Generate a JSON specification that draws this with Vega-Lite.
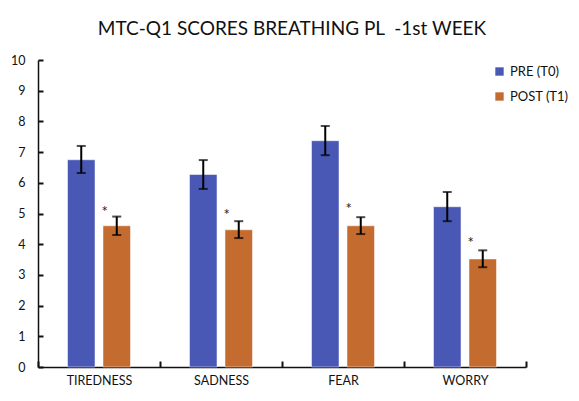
{
  "$schema": "https://vega.github.io/schema/vega-lite/v6.json",
  "autosize": "none",
  "width": 488,
  "height": 307,
  "padding": {"left": 38, "top": 60, "right": 53, "bottom": 34},
  "background": "white",
  "config": {
    "view": {"stroke": null},
    "font": "Lato",
    "axis": {"labelFont": "Lato", "titleFont": "Lato"},
    "axisY": {
      "title": null,
      "labelOverlap": false,
      "grid": false,
      "labelFontSize": 12.5,
      "labelColor": "#111111",
      "ticks": true,
      "tickSize": -5,
      "labelPadding": 18,
      "tickColor": "#111111",
      "tickWidth": 2,
      "domainColor": "#111111",
      "domainWidth": 1.5
    }
  },
  "title": {
    "text": "MTC-Q1 SCORES BREATHING PL\u00a0 -1st WEEK",
    "font": "Lato",
    "fontSize": 19,
    "fontWeight": "normal",
    "color": "#111111",
    "anchor": "middle",
    "offset": 15,
    "dx": 10
  },
  "data": {
    "values": [
      {"category": "TIREDNESS", "group": "PRE (T0)", "mean": 6.75, "lower": 6.32, "upper": 7.2, "star": null},
      {"category": "TIREDNESS", "group": "POST (T1)", "mean": 4.6, "lower": 4.3, "upper": 4.9, "star": 5.05},
      {"category": "SADNESS", "group": "PRE (T0)", "mean": 6.27, "lower": 5.8, "upper": 6.74, "star": null},
      {"category": "SADNESS", "group": "POST (T1)", "mean": 4.47, "lower": 4.2, "upper": 4.75, "star": 4.95},
      {"category": "FEAR", "group": "PRE (T0)", "mean": 7.37, "lower": 6.9, "upper": 7.85, "star": null},
      {"category": "FEAR", "group": "POST (T1)", "mean": 4.6, "lower": 4.33, "upper": 4.88, "star": 5.15},
      {"category": "WORRY", "group": "PRE (T0)", "mean": 5.22, "lower": 4.75, "upper": 5.7, "star": null},
      {"category": "WORRY", "group": "POST (T1)", "mean": 3.52, "lower": 3.25, "upper": 3.8, "star": 4.05}
    ]
  },
  "encoding": {
    "x": {
      "field": "category",
      "type": "nominal",
      "sort": ["TIREDNESS", "SADNESS", "FEAR", "WORRY"],
      "scale": {"paddingInner": 0, "paddingOuter": 0},
      "axis": {
        "title": null,
        "labelAngle": 0,
        "labelFontSize": 12.5,
        "labelColor": "#111111",
        "labelPadding": 13,
        "tickBand": "extent",
        "ticks": true,
        "tickSize": -6,
        "tickColor": "#111111",
        "tickWidth": 2,
        "domainColor": "#111111",
        "domainWidth": 1.5
      }
    },
    "xOffset": {
      "field": "group",
      "type": "nominal",
      "sort": ["PRE (T0)", "POST (T1)"],
      "scale": {"paddingInner": 0.225, "paddingOuter": 0.831}
    }
  },
  "layer": [
    {
      "mark": {"type": "bar", "stroke": "white", "strokeWidth": 0.5},
      "encoding": {
        "y": {
          "field": "mean",
          "type": "quantitative",
          "scale": {"domain": [0, 10]},
          "axis": {"values": [0, 1, 2, 3, 4, 5, 6, 7, 8, 9, 10]}
        },
        "color": {
          "field": "group",
          "type": "nominal",
          "sort": ["PRE (T0)", "POST (T1)"],
          "scale": {"range": ["#4958B5", "#C46C30"]},
          "legend": {
            "title": null,
            "orient": "none",
            "legendX": 455,
            "legendY": 5,
            "symbolType": "square",
            "symbolSize": 70,
            "symbolStrokeWidth": 0,
            "labelFontSize": 13,
            "labelColor": "#111111",
            "rowPadding": 11
          }
        }
      }
    },
    {
      "mark": {"type": "rule", "color": "#000000", "strokeWidth": 2},
      "encoding": {
        "y": {"field": "lower", "type": "quantitative", "axis": {"values": [0, 1, 2, 3, 4, 5, 6, 7, 8, 9, 10]}},
        "y2": {"field": "upper"}
      }
    },
    {
      "mark": {"type": "tick", "color": "#000000", "thickness": 2, "size": 9, "orient": "horizontal"},
      "encoding": {
        "y": {"field": "lower", "type": "quantitative", "axis": {"values": [0, 1, 2, 3, 4, 5, 6, 7, 8, 9, 10]}}
      }
    },
    {
      "mark": {"type": "tick", "color": "#000000", "thickness": 2, "size": 9, "orient": "horizontal"},
      "encoding": {
        "y": {"field": "upper", "type": "quantitative", "axis": {"values": [0, 1, 2, 3, 4, 5, 6, 7, 8, 9, 10]}}
      }
    },
    {
      "transform": [{"filter": "datum.star != null"}],
      "mark": {"type": "text", "text": "*", "fontSize": 15, "dx": -12, "baseline": "middle", "color": "#222222"},
      "encoding": {
        "y": {"field": "star", "type": "quantitative", "axis": {"values": [0, 1, 2, 3, 4, 5, 6, 7, 8, 9, 10]}}
      }
    }
  ]
}
